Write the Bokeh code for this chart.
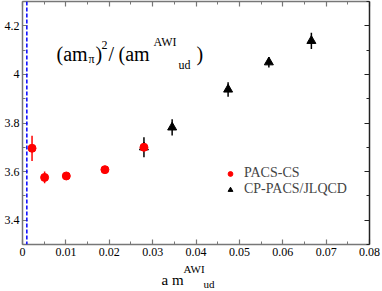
from bokeh.plotting import figure
from bokeh.layouts import column
from bokeh.models import (LinearAxis, FixedTicker, Label, Legend, LegendItem, Span,
                          CustomJSTickFormatter)
from bokeh.embed import file_html
from bokeh.resources import INLINE

# ---- data ----
pacs_x = [0.0022, 0.0051, 0.0101, 0.0190, 0.0280]
pacs_y = [3.696, 3.576, 3.582, 3.608, 3.700]
pacs_err = [0.052, 0.024, 0.010, 0.008, 0.010]

cp_x = [0.0280, 0.0345, 0.0474, 0.0568, 0.0666]
cp_y = [3.700, 3.782, 3.938, 4.050, 4.138]
cp_err = [0.041, 0.033, 0.030, 0.022, 0.033]

vline_x = [0.001]

x_ticks = [0.0, 0.01, 0.02, 0.03, 0.04, 0.05, 0.06, 0.07, 0.08]
x_tick_labels = ["0", "0.01", "0.02", "0.03", "0.04", "0.05", "0.06", "0.07", "0.08"]
x_minor = [0.005, 0.015, 0.025, 0.035, 0.045, 0.055, 0.065, 0.075]
y_ticks = [3.4, 3.6, 3.8, 4.0, 4.2]
y_tick_labels = ["3.4", "3.6", "3.8", "4", "4.2"]
y_minor = [3.3, 3.5, 3.7, 3.9, 4.1, 4.3]

FONT = "Liberation Serif"
AX = "#777777"

W = 382
H_MAIN = 262
H_TXT = 36
OVERLAP = 10

p = figure(width=W, height=H_MAIN, x_range=(0, 0.08), y_range=(3.3, 4.3),
           output_backend="svg", toolbar_location=None,
           x_axis_location=None, y_axis_location=None,
           min_border_left=22, min_border_right=13, min_border_top=1,
           min_border_bottom=18)
p.grid.visible = False
p.outline_line_color = None
p.background_fill_color = "white"
p.border_fill_color = "white"


def make_axis(side, ticks, minor, labels, color, show):
    ax = LinearAxis(ticker=FixedTicker(ticks=ticks, minor_ticks=minor))
    ax.axis_line_color = color
    ax.axis_line_width = 1.5
    ax.major_tick_line_color = color
    ax.minor_tick_line_color = color
    ax.major_tick_line_width = 1.2
    ax.minor_tick_line_width = 1.0
    ax.major_tick_in = 5
    ax.major_tick_out = 0
    ax.minor_tick_in = 3
    ax.minor_tick_out = 0
    if show:
        ax.major_label_overrides = {t: l for t, l in zip(ticks, labels)}
        ax.major_label_text_font = FONT
        ax.major_label_text_font_size = "12px"
        ax.major_label_text_color = "black"
        ax.major_label_standoff = 3
    else:
        ax.formatter = CustomJSTickFormatter(code="return ''")
        ax.major_label_standoff = 0
    p.add_layout(ax, side)
    return ax


make_axis("below", x_ticks, x_minor, x_tick_labels, AX, True)
make_axis("left", y_ticks, y_minor, y_tick_labels, AX, True)
make_axis("above", x_ticks, x_minor, x_tick_labels, AX, False)
make_axis("right", y_ticks, y_minor, y_tick_labels, "#222222", False)

# dashed vertical line
for vx in vline_x:
    p.add_layout(Span(location=vx, dimension="height", line_color="blue",
                      line_width=1.5, line_dash="4 2"))

# error bars + markers
p.segment(x0=cp_x, y0=[y - e for y, e in zip(cp_y, cp_err)],
          x1=cp_x, y1=[y + e for y, e in zip(cp_y, cp_err)],
          line_color="black", line_width=1.5)
tri = p.scatter(x=cp_x, y=cp_y, marker="triangle", size=9,
                fill_color="black", line_color="black")

p.segment(x0=pacs_x, y0=[y - e for y, e in zip(pacs_y, pacs_err)],
          x1=pacs_x, y1=[y + e for y, e in zip(pacs_y, pacs_err)],
          line_color="red", line_width=1.5)
circ = p.scatter(x=pacs_x, y=pacs_y, marker="circle", size=8,
                 fill_color="red", line_color="red")

legend = Legend(items=[LegendItem(label="PACS-CS", renderers=[circ]),
                       LegendItem(label="CP-PACS/JLQCD", renderers=[tri])],
                location=(202, 47), orientation="vertical",
                glyph_width=12, glyph_height=13, label_height=13,
                label_standoff=8, spacing=0, padding=0, margin=0,
                border_line_color=None, background_fill_alpha=0,
                label_text_font=FONT, label_text_font_size="14px")
p.add_layout(legend, "center")

# in-plot title pieces (frame-relative screen coords; frame left=22, bottom=244)
FL, FB = 22, 244


def txt(fig, x, y, s, size, left, bottom):
    fig.add_layout(Label(x=x - left, y=bottom - y, x_units="screen", y_units="screen",
                         text=s, text_font=FONT, text_font_size=size,
                         text_baseline="alphabetic", text_color="black"))


txt(p, 56, 53, "(am", "20px", FL, FB)
txt(p, 88, 58, "\u03c0", "12px", FL, FB)
txt(p, 95, 53, ")", "20px", FL, FB)
txt(p, 101, 44, "2", "12px", FL, FB)
txt(p, 108, 53, "/", "20px", FL, FB)
txt(p, 118, 53, "(am", "20px", FL, FB)
txt(p, 153, 41, "AWI", "12px", FL, FB)
txt(p, 178, 64, "ud", "12px", FL, FB)
txt(p, 196, 53, ")", "20px", FL, FB)

# x-axis title strip: a m^AWI_ud (transparent, pulled up over the main plot's margin)
t = figure(width=W, height=H_TXT, output_backend="svg", toolbar_location=None,
           x_axis_location=None, y_axis_location=None,
           min_border_left=0, min_border_right=0, min_border_top=0,
           min_border_bottom=0)
t.styles = {"margin-top": "-%dpx" % OVERLAP}
t.grid.visible = False
t.outline_line_color = None
t.background_fill_alpha = 0
t.border_fill_alpha = 0
TB = 291
TL = 22  # the column aligns the strip's frame with the main frame
txt(t, 161, 282, "a m", "15px", TL, TB)
txt(t, 183, 271, "AWI", "11px", TL, TB)
txt(t, 203, 286, "ud", "11px", TL, TB)

layout = column(p, t, spacing=0)
open("out.html", "w").write(file_html(layout, INLINE))
